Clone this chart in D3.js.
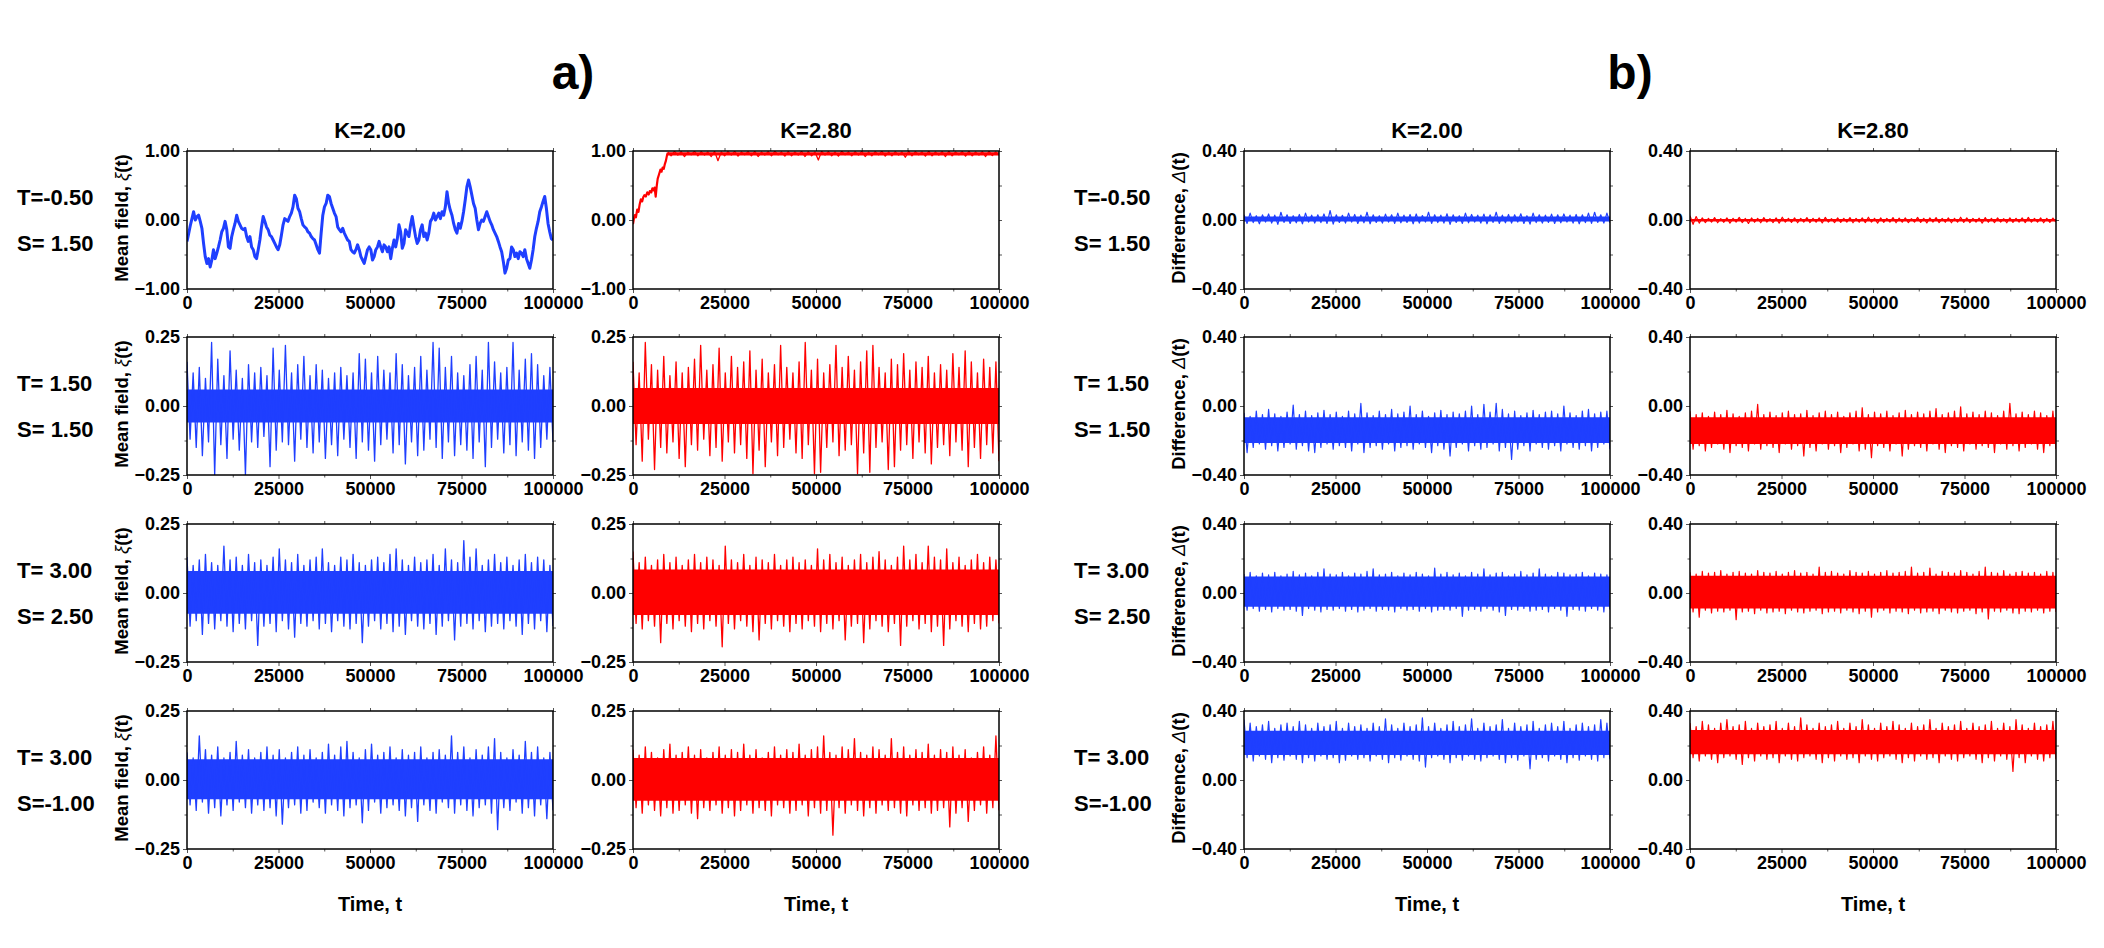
<!DOCTYPE html>
<html>
<head>
<meta charset="utf-8">
<script src="https://cdn.jsdelivr.net/npm/d3@7"></script>
<style>
  body { margin: 0; background: #fff; }
  svg { display: block; }
</style>
</head>
<body>
<div id="chart"></div>
<script>
// ---------- axes / labels ----------
const timeTicks = [0, 25000, 50000, 75000, 100000];
const timeMinor = [12500, 37500, 62500, 87500];
const kLabels = ["K=2.00", "K=2.80"];
const rowT = ["T=-0.50", "T= 1.50", "T= 3.00", "T= 3.00"];
const rowS = ["S= 1.50", "S= 1.50", "S= 2.50", "S=-1.00"];
const meanTicks = [[-1, 0, 1], [-0.25, 0, 0.25], [-0.25, 0, 0.25], [-0.25, 0, 0.25]];
const diffTicks = [-0.4, 0, 0.4];

// ---------- a) mean field, row 1 ----------
// K=2.00: slow wandering trace, read at even steps from t=0 to t=100000
const walkK200 = [-0.31,-0.2,-0.08,0.02,0.12,0,0.05,0.07,-0.02,-0.12,-0.34,-0.53,-0.63,-0.56,-0.68,-0.58,-0.43,-0.56,-0.48,-0.39,
  -0.29,-0.17,-0.12,-0.02,-0.14,-0.39,-0.41,-0.24,-0.14,-0.05,0.07,-0.02,-0.07,-0.12,-0.14,-0.12,-0.24,-0.31,-0.24,-0.39,
  -0.43,-0.53,-0.56,-0.43,-0.29,-0.1,0.05,-0.02,-0.1,-0.14,-0.22,-0.24,-0.29,-0.34,-0.39,-0.43,-0.36,-0.22,-0.07,0.02,
  0,-0.02,0.05,0.1,0.19,0.36,0.31,0.17,0.12,0.02,-0.07,-0.1,-0.12,-0.17,-0.19,-0.24,-0.27,-0.29,-0.36,-0.43,
  -0.48,-0.19,0.07,0.19,0.24,0.36,0.34,0.24,0.17,0.1,0.05,-0.1,-0.14,-0.17,-0.12,-0.19,-0.24,-0.29,-0.31,-0.43,
  -0.46,-0.48,-0.43,-0.36,-0.43,-0.53,-0.58,-0.63,-0.53,-0.43,-0.39,
  -0.43,-0.58,-0.53,-0.43,-0.39,-0.31,-0.39,-0.46,-0.36,-0.39,-0.46,-0.39,-0.56,-0.41,-0.29,-0.39,-0.27,-0.07,-0.17,-0.41,
  -0.34,-0.14,-0.19,-0.24,-0.07,0.05,-0.1,-0.24,-0.34,-0.29,-0.14,-0.07,-0.24,-0.19,-0.29,-0.19,-0.02,0.02,0.1,0,
  0.05,0.1,0.02,0.12,0.07,0.19,0.41,0.24,0.14,0.07,-0.05,-0.14,-0.19,-0.05,-0.12,-0.02,0.12,0.29,0.48,0.58,
  0.48,0.36,0.24,0.17,0,-0.14,-0.05,0,-0.02,0.05,0.12,0.05,-0.02,-0.07,-0.14,-0.19,-0.24,-0.31,-0.39,-0.46,
  -0.6,-0.77,-0.7,-0.58,-0.56,-0.39,-0.43,-0.53,-0.48,-0.56,-0.46,-0.48,-0.53,-0.43,-0.56,-0.63,-0.7,-0.58,-0.43,-0.24,
  -0.12,-0.02,0.12,0.19,0.27,0.34,0.17,-0.05,-0.17,-0.27,-0.29];

// K=2.80: quick rise, [t, xi], then a saturated plateau (spike tops / bottoms)
const riseK280 = [[0,-0.06],[250,0.02],[500,0.07],[800,0.04],[1150,0.15],[1500,0.12],[1800,0.22],[2150,0.3],[2500,0.27],[2800,0.33],
  [3100,0.36],[3500,0.34],[3900,0.4],[4300,0.37],[4600,0.42],[5000,0.4],[5300,0.46],[5600,0.43],[5900,0.47],[6200,0.34],[6500,0.5],
  [6750,0.6],[7100,0.66],[7500,0.73],[7800,0.7],[8100,0.76],[8400,0.74],[8700,0.81],[9000,0.86],[9300,0.94],[9500,0.975]];
const plateauUpK280 = [0.985,0.995,0.99,0.985,0.995,0.99,0.985,0.995,0.985,0.99,0.995,0.985,0.99,0.995,0.985,0.99,0.995,0.985,0.99,0.985,
  0.995,0.99,0.985,0.995,0.99,0.985,0.995,0.985,0.99,0.995,0.985,0.99,0.995,0.985,0.99,0.985,0.995,0.99,0.985,0.995,
  0.985,0.99,0.995,0.985,0.99,0.995,0.985,0.99,0.995,0.985];
const plateauDnK280 = [0.93,0.94,0.92,0.945,0.93,0.94,0.92,0.86,0.93,0.94,0.925,0.945,0.93,0.92,0.94,0.93,0.945,0.925,0.93,0.94,
  0.92,0.93,0.87,0.94,0.93,0.925,0.945,0.93,0.94,0.92,0.93,0.945,0.925,0.93,0.94,0.91,0.93,0.945,0.925,0.93,
  0.94,0.92,0.93,0.945,0.925,0.93,0.94,0.92,0.935,0.94];
const plateauCoreK280 = [0.935, 0.982];

// ---------- a) mean field, rows 2-4 (spike tops / bottoms, left to right) ----------
const mfK200r2Up = [0.16,0.12,0.14,0.10,0.23,0.17,0.11,0.20,0.13,0.10,0.15,0.12,0.14,0.11,0.21,0.13,0.22,0.12,0.15,0.18,
  0.11,0.15,0.13,0.10,0.12,0.14,0.11,0.12,0.19,0.17,0.12,0.18,0.13,0.12,0.19,0.15,0.11,0.14,0.18,0.13,
  0.23,0.21,0.14,0.18,0.12,0.11,0.15,0.18,0.13,0.23,0.16,0.12,0.14,0.23,0.13,0.17,0.19,0.15,0.11,0.14];
const mfK200r2Dn = [-0.12,-0.15,-0.18,-0.13,-0.25,-0.14,-0.19,-0.12,-0.16,-0.25,-0.13,-0.15,-0.11,-0.22,-0.16,-0.13,-0.14,-0.20,-0.12,-0.15,
  -0.17,-0.13,-0.19,-0.14,-0.18,-0.12,-0.15,-0.19,-0.13,-0.16,-0.20,-0.14,-0.12,-0.17,-0.14,-0.21,-0.13,-0.18,-0.16,-0.12,
  -0.15,-0.19,-0.13,-0.18,-0.14,-0.16,-0.19,-0.13,-0.22,-0.15,-0.12,-0.17,-0.14,-0.18,-0.13,-0.16,-0.19,-0.15,-0.12,-0.13];
const mfK280r2Up = [0.16,0.12,0.23,0.15,0.13,0.18,0.11,0.16,0.12,0.14,0.17,0.22,0.13,0.15,0.21,0.12,0.18,0.14,0.16,0.2,
  0.13,0.17,0.12,0.15,0.22,0.14,0.12,0.16,0.23,0.13,0.17,0.12,0.15,0.22,0.14,0.18,0.13,0.16,0.2,0.22,
  0.14,0.12,0.17,0.15,0.19,0.13,0.16,0.14,0.18,0.12,0.15,0.13,0.19,0.14,0.2,0.16,0.12,0.17,0.14,0.16];
const mfK280r2Dn = [-0.14,-0.2,-0.12,-0.23,-0.15,-0.17,-0.13,-0.19,-0.22,-0.14,-0.16,-0.12,-0.18,-0.15,-0.2,-0.13,-0.17,-0.14,-0.19,-0.245,
  -0.16,-0.22,-0.13,-0.18,-0.15,-0.12,-0.17,-0.19,-0.14,-0.245,-0.24,-0.15,-0.13,-0.18,-0.16,-0.14,-0.245,-0.17,-0.24,-0.15,
  -0.13,-0.23,-0.22,-0.16,-0.14,-0.19,-0.13,-0.17,-0.21,-0.15,-0.14,-0.18,-0.13,-0.16,-0.22,-0.15,-0.19,-0.14,-0.17,-0.2];
const mfK200r3Up = [0.13,0.1,0.12,0.14,0.11,0.1,0.17,0.12,0.13,0.1,0.14,0.11,0.12,0.1,0.13,0.16,0.12,0.11,0.14,0.1,
  0.12,0.13,0.16,0.11,0.1,0.13,0.12,0.14,0.11,0.1,0.12,0.13,0.11,0.14,0.16,0.12,0.1,0.13,0.11,0.12,
  0.14,0.1,0.16,0.12,0.11,0.19,0.13,0.16,0.1,0.12,0.14,0.11,0.13,0.1,0.12,0.14,0.11,0.13,0.12,0.1];
const mfK200r3Dn = [-0.12,-0.1,-0.15,-0.11,-0.13,-0.1,-0.12,-0.14,-0.11,-0.13,-0.1,-0.19,-0.12,-0.11,-0.14,-0.1,-0.13,-0.16,-0.11,-0.12,
  -0.1,-0.13,-0.11,-0.14,-0.1,-0.12,-0.13,-0.11,-0.18,-0.12,-0.1,-0.13,-0.11,-0.14,-0.12,-0.15,-0.1,-0.12,-0.13,-0.11,
  -0.15,-0.12,-0.1,-0.17,-0.12,-0.11,-0.13,-0.1,-0.14,-0.12,-0.11,-0.13,-0.1,-0.12,-0.15,-0.11,-0.13,-0.1,-0.14,-0.12];
const mfK280r3Up = [0.15,0.11,0.13,0.1,0.12,0.14,0.11,0.13,0.1,0.12,0.14,0.11,0.13,0.12,0.1,0.17,0.12,0.11,0.14,0.1,
  0.13,0.12,0.11,0.14,0.1,0.12,0.13,0.11,0.12,0.1,0.16,0.12,0.14,0.11,0.13,0.1,0.12,0.14,0.11,0.13,
  0.15,0.12,0.1,0.13,0.17,0.12,0.14,0.11,0.17,0.13,0.12,0.16,0.11,0.13,0.1,0.12,0.14,0.11,0.13,0.12];
const mfK280r3Dn = [-0.11,-0.13,-0.1,-0.12,-0.18,-0.11,-0.13,-0.1,-0.12,-0.14,-0.11,-0.13,-0.1,-0.12,-0.195,-0.11,-0.13,-0.1,-0.12,-0.14,
  -0.17,-0.11,-0.13,-0.1,-0.12,-0.14,-0.11,-0.13,-0.1,-0.12,-0.14,-0.11,-0.13,-0.1,-0.17,-0.12,-0.11,-0.18,-0.13,-0.1,
  -0.12,-0.14,-0.11,-0.19,-0.12,-0.1,-0.13,-0.11,-0.14,-0.12,-0.19,-0.13,-0.1,-0.12,-0.14,-0.11,-0.13,-0.12,-0.1,-0.11];
const mfK200r4Up = [0.1,0.08,0.16,0.11,0.09,0.12,0.08,0.1,0.14,0.09,0.11,0.08,0.1,0.12,0.09,0.11,0.08,0.1,0.12,0.09,
  0.11,0.08,0.1,0.13,0.09,0.12,0.14,0.1,0.08,0.11,0.13,0.09,0.1,0.12,0.08,0.11,0.09,0.1,0.12,0.08,
  0.1,0.11,0.09,0.16,0.1,0.12,0.08,0.11,0.09,0.12,0.15,0.1,0.08,0.11,0.09,0.14,0.1,0.12,0.08,0.1];
const mfK200r4Dn = [-0.09,-0.11,-0.08,-0.12,-0.1,-0.13,-0.09,-0.11,-0.08,-0.1,-0.12,-0.09,-0.11,-0.1,-0.13,-0.16,-0.1,-0.09,-0.12,-0.11,
  -0.08,-0.1,-0.12,-0.09,-0.11,-0.13,-0.1,-0.09,-0.155,-0.11,-0.08,-0.12,-0.1,-0.09,-0.11,-0.13,-0.1,-0.15,-0.09,-0.11,
  -0.12,-0.08,-0.1,-0.12,-0.09,-0.11,-0.13,-0.1,-0.09,-0.12,-0.18,-0.1,-0.11,-0.08,-0.12,-0.1,-0.13,-0.09,-0.14,-0.11];
const mfK280r4Up = [0.11,0.09,0.12,0.1,0.08,0.11,0.13,0.09,0.1,0.12,0.09,0.11,0.08,0.1,0.12,0.09,0.11,0.1,0.13,0.09,
  0.11,0.08,0.1,0.12,0.09,0.11,0.1,0.13,0.09,0.11,0.12,0.16,0.1,0.09,0.12,0.11,0.15,0.1,0.09,0.12,
  0.11,0.09,0.15,0.1,0.12,0.09,0.11,0.1,0.13,0.09,0.11,0.1,0.12,0.09,0.11,0.08,0.1,0.12,0.09,0.16];
const mfK280r4Dn = [-0.1,-0.12,-0.09,-0.11,-0.13,-0.1,-0.12,-0.11,-0.09,-0.12,-0.14,-0.1,-0.11,-0.09,-0.12,-0.1,-0.13,-0.11,-0.09,-0.12,
  -0.1,-0.11,-0.13,-0.09,-0.1,-0.12,-0.11,-0.09,-0.13,-0.1,-0.12,-0.11,-0.2,-0.1,-0.12,-0.09,-0.11,-0.13,-0.1,-0.12,
  -0.09,-0.11,-0.1,-0.12,-0.13,-0.09,-0.11,-0.1,-0.12,-0.11,-0.1,-0.17,-0.12,-0.1,-0.15,-0.11,-0.09,-0.12,-0.1,-0.11];
// dense core of each trace [low, high], rows 2-4
const mfCoreK200 = [[-0.06, 0.06], [-0.075, 0.08], [-0.07, 0.075]];
const mfCoreK280 = [[-0.065, 0.065], [-0.08, 0.085], [-0.075, 0.08]];

// ---------- b) difference, rows 1-4 ----------
const dfK200r1Up = [0.03,0.04,0.025,0.03,0.035,0.028,0.045,0.03,0.025,0.032,0.04,0.028,0.03,0.035,0.055,0.03,0.027,0.04,0.032,0.028,
  0.045,0.03,0.025,0.034,0.03,0.04,0.028,0.032,0.035,0.026,0.045,0.03,0.028,0.036,0.03,0.025,0.04,0.032,0.028,0.034,
  0.03,0.045,0.028,0.032,0.03,0.036,0.025,0.04,0.03,0.028,0.034,0.03,0.035,0.028,0.032,0.03,0.04,0.045,0.03,0.04];
const dfK200r1Dn = [-0.02,-0.015,-0.022,-0.012,-0.018,-0.025,-0.014,-0.02,-0.016,-0.022,-0.012,-0.018,-0.015,-0.02,-0.024,-0.014,-0.018,-0.012,-0.02,-0.016,
  -0.022,-0.014,-0.018,-0.012,-0.02,-0.016,-0.014,-0.022,-0.018,-0.012,-0.02,-0.015,-0.018,-0.025,-0.014,-0.02,-0.016,-0.012,-0.018,-0.022,
  -0.014,-0.02,-0.016,-0.018,-0.012,-0.02,-0.024,-0.015,-0.018,-0.014,-0.02,-0.016,-0.012,-0.018,-0.022,-0.015,-0.02,-0.014,-0.018,-0.016];
const dfK280r1Up = [0.025,0.02,0.012,0.01,0.014,0.008,0.012,0.01,0.015,0.009,0.012,0.01,0.014,0.008,0.012,0.016,0.01,0.012,0.009,0.014,
  0.01,0.012,0.015,0.008,0.012,0.01,0.014,0.009,0.012,0.016,0.01,0.012,0.009,0.014,0.011,0.012,0.008,0.015,0.01,0.012,
  0.014,0.009,0.012,0.01,0.016,0.012,0.009,0.011,0.014,0.01,0.012,0.008,0.013,0.01,0.012,0.015,0.009,0.012,0.01,0.011];
const dfK280r1Dn = [-0.025,-0.018,-0.015,-0.012,-0.016,-0.013,-0.018,-0.012,-0.015,-0.02,-0.013,-0.016,-0.012,-0.015,-0.018,-0.012,-0.014,-0.016,-0.012,-0.015,
  -0.013,-0.017,-0.012,-0.015,-0.014,-0.012,-0.016,-0.013,-0.015,-0.012,-0.018,-0.014,-0.012,-0.016,-0.013,-0.015,-0.012,-0.014,-0.017,-0.012,
  -0.015,-0.013,-0.016,-0.012,-0.014,-0.015,-0.012,-0.018,-0.013,-0.015,-0.012,-0.016,-0.014,-0.012,-0.015,-0.013,-0.012,-0.016,-0.014,-0.012];
const dfK200r2Up = [-0.04,-0.06,-0.03,-0.05,-0.02,-0.045,-0.06,-0.035,0.005,-0.05,-0.03,-0.055,-0.04,-0.025,-0.05,-0.035,-0.06,-0.03,-0.045,0.015,
  -0.04,-0.055,-0.03,-0.05,-0.02,-0.045,-0.035,0.0,-0.05,-0.03,-0.06,-0.04,-0.025,-0.05,-0.035,-0.045,-0.03,0.0,-0.05,0.01,
  -0.035,0.015,-0.02,-0.045,-0.03,-0.055,-0.04,-0.025,-0.05,-0.035,-0.03,-0.045,0.0,-0.04,-0.055,-0.03,-0.02,-0.045,-0.035,-0.03];
const dfK200r2Dn = [-0.27,-0.24,-0.22,-0.25,-0.23,-0.26,-0.24,-0.22,-0.25,-0.23,-0.26,-0.27,-0.24,-0.22,-0.25,-0.23,-0.24,-0.26,-0.22,-0.27,
  -0.24,-0.23,-0.25,-0.22,-0.26,-0.24,-0.23,-0.25,-0.22,-0.24,-0.27,-0.23,-0.25,-0.29,-0.24,-0.22,-0.26,-0.23,-0.25,-0.24,
  -0.22,-0.26,-0.24,-0.31,-0.25,-0.23,-0.26,-0.22,-0.24,-0.25,-0.23,-0.26,-0.22,-0.24,-0.25,-0.23,-0.26,-0.24,-0.22,-0.25];
const dfK280r2Up = [-0.03,-0.05,-0.04,-0.06,-0.035,-0.05,-0.025,-0.045,-0.06,-0.04,-0.03,0.01,-0.05,-0.035,-0.055,-0.04,-0.03,-0.05,-0.045,-0.025,
  -0.055,-0.04,-0.03,-0.05,-0.035,-0.06,-0.04,-0.03,-0.01,-0.05,-0.035,-0.045,-0.03,-0.055,-0.04,-0.025,-0.05,-0.035,-0.045,-0.03,
  -0.015,-0.05,-0.04,-0.03,-0.005,-0.045,-0.035,-0.05,-0.03,-0.04,-0.055,-0.03,0.015,-0.045,-0.035,-0.05,-0.03,-0.04,-0.055,-0.03];
const dfK280r2Dn = [-0.25,-0.23,-0.26,-0.24,-0.22,-0.25,-0.27,-0.23,-0.24,-0.26,-0.22,-0.25,-0.23,-0.24,-0.27,-0.22,-0.25,-0.23,-0.29,-0.24,
  -0.26,-0.22,-0.25,-0.23,-0.27,-0.24,-0.22,-0.26,-0.25,-0.3,-0.23,-0.24,-0.26,-0.22,-0.29,-0.25,-0.23,-0.24,-0.26,-0.22,
  -0.25,-0.27,-0.23,-0.24,-0.26,-0.22,-0.25,-0.23,-0.24,-0.27,-0.22,-0.25,-0.23,-0.26,-0.24,-0.22,-0.25,-0.27,-0.23,-0.25];
const dfK200r3Up = [0.11,0.12,0.1,0.115,0.105,0.12,0.1,0.11,0.125,0.105,0.115,0.1,0.12,0.14,0.11,0.105,0.12,0.1,0.115,0.11,
  0.125,0.14,0.105,0.11,0.12,0.1,0.115,0.105,0.12,0.11,0.1,0.145,0.11,0.12,0.105,0.115,0.1,0.12,0.11,0.14,
  0.105,0.115,0.12,0.1,0.11,0.125,0.105,0.115,0.14,0.11,0.1,0.12,0.115,0.105,0.11,0.12,0.1,0.115,0.11,0.105];
const dfK200r3Dn = [-0.1,-0.09,-0.105,-0.095,-0.11,-0.09,-0.1,-0.095,-0.105,-0.13,-0.09,-0.1,-0.11,-0.095,-0.1,-0.09,-0.105,-0.095,-0.11,-0.1,
  -0.09,-0.105,-0.095,-0.1,-0.11,-0.09,-0.1,-0.095,-0.105,-0.09,-0.11,-0.1,-0.095,-0.1,-0.09,-0.135,-0.1,-0.095,-0.105,-0.09,
  -0.1,-0.11,-0.13,-0.095,-0.1,-0.09,-0.105,-0.1,-0.095,-0.11,-0.09,-0.1,-0.135,-0.095,-0.1,-0.105,-0.09,-0.1,-0.11,-0.095];
const dfK280r3Up = [0.12,0.11,0.125,0.115,0.12,0.13,0.11,0.12,0.125,0.115,0.11,0.13,0.12,0.115,0.125,0.11,0.12,0.13,0.115,0.12,
  0.11,0.15,0.12,0.125,0.115,0.11,0.13,0.12,0.115,0.125,0.11,0.12,0.13,0.115,0.12,0.125,0.15,0.115,0.12,0.145,
  0.11,0.125,0.12,0.115,0.13,0.12,0.11,0.125,0.15,0.12,0.115,0.13,0.11,0.12,0.125,0.115,0.12,0.11,0.125,0.12];
const dfK280r3Dn = [-0.11,-0.14,-0.1,-0.115,-0.105,-0.11,-0.1,-0.155,-0.11,-0.105,-0.12,-0.1,-0.115,-0.11,-0.105,-0.12,-0.1,-0.11,-0.115,-0.105,
  -0.1,-0.12,-0.11,-0.105,-0.115,-0.1,-0.11,-0.12,-0.105,-0.14,-0.11,-0.1,-0.115,-0.105,-0.11,-0.12,-0.1,-0.115,-0.11,-0.105,
  -0.12,-0.1,-0.11,-0.115,-0.105,-0.1,-0.12,-0.11,-0.15,-0.105,-0.11,-0.1,-0.115,-0.12,-0.105,-0.11,-0.1,-0.115,-0.105,-0.11];
const dfK200r4Up = [0.35,0.33,0.31,0.32,0.34,0.3,0.32,0.33,0.31,0.34,0.32,0.3,0.33,0.31,0.32,0.34,0.3,0.33,0.31,0.32,
  0.3,0.33,0.31,0.355,0.32,0.3,0.33,0.31,0.32,0.36,0.31,0.33,0.3,0.32,0.34,0.31,0.32,0.355,0.3,0.33,
  0.31,0.32,0.35,0.3,0.33,0.31,0.32,0.34,0.3,0.32,0.33,0.31,0.34,0.3,0.32,0.33,0.31,0.32,0.35,0.33];
const dfK200r4Dn = [0.13,0.11,0.14,0.12,0.1,0.13,0.115,0.14,0.12,0.1,0.13,0.11,0.14,0.12,0.13,0.1,0.115,0.14,0.12,0.13,
  0.11,0.14,0.12,0.1,0.13,0.115,0.14,0.12,0.11,0.075,0.13,0.14,0.12,0.1,0.13,0.115,0.14,0.12,0.11,0.13,
  0.14,0.12,0.1,0.13,0.115,0.14,0.065,0.12,0.13,0.11,0.14,0.12,0.1,0.13,0.115,0.14,0.12,0.11,0.13,0.12];
const dfK280r4Up = [0.33,0.31,0.34,0.32,0.3,0.33,0.35,0.31,0.32,0.34,0.3,0.33,0.31,0.32,0.34,0.3,0.33,0.31,0.36,0.32,
  0.3,0.33,0.31,0.32,0.34,0.3,0.33,0.31,0.35,0.32,0.3,0.33,0.31,0.34,0.32,0.3,0.33,0.31,0.32,0.35,
  0.3,0.33,0.31,0.32,0.34,0.3,0.33,0.31,0.32,0.34,0.3,0.33,0.31,0.35,0.32,0.3,0.33,0.31,0.32,0.34];
const dfK280r4Dn = [0.13,0.11,0.14,0.12,0.1,0.13,0.14,0.12,0.09,0.13,0.11,0.14,0.12,0.13,0.1,0.14,0.12,0.11,0.13,0.14,
  0.12,0.1,0.13,0.11,0.14,0.12,0.13,0.1,0.14,0.12,0.11,0.13,0.14,0.12,0.1,0.13,0.11,0.14,0.12,0.13,
  0.1,0.14,0.12,0.11,0.13,0.14,0.12,0.1,0.13,0.11,0.14,0.12,0.05,0.13,0.1,0.14,0.12,0.11,0.13,0.12];
const dfCoreK200 = [[-0.008, 0.02], [-0.215, -0.065], [-0.08, 0.095], [0.145, 0.285]];
const dfCoreK280 = [[-0.008, 0.006], [-0.22, -0.065], [-0.09, 0.1], [0.15, 0.29]];

// ---------- layout ----------
const W = 2104, H = 948;
const FONT = '"Liberation Sans", Arial, Helvetica, sans-serif';
const colLeft = [187, 633, 1244, 1690];
const plotW = 366, plotH = 138;
const rowTop = [151, 337, 524, 711];
const COLORS = ["#1f3fff", "#ff0000"];

const svg = d3.select("#chart").append("svg")
  .attr("width", W).attr("height", H)
  .attr("font-family", FONT);
const defs = svg.append("defs");

// values read at even steps -> [t, v]
function spread(vals, t0, t1) {
  return vals.map((v, i) => [t0 + (t1 - t0) * i / (vals.length - 1), v]);
}
// interleave spike tops and bottoms into one trace spread over [t0, t1]
function zig(up, dn, t0, t1) {
  const n = Math.min(up.length, dn.length);
  return spread(d3.merge(d3.range(n).map(i => [up[i], dn[i]])), t0, t1);
}

// table of layers per panel: block (0 = a, 1 = b), row, K index
function layersFor(block, row, k) {
  if (block === 0) {
    if (row === 0) {
      if (k === 0) return [{ line: spread(walkK200, 0, 100000), w: 3 }];
      return [
        { band: plateauCoreK280, t0: 9500, t1: 100000 },
        { line: riseK280, w: 2.2 },
        { line: zig(plateauUpK280, plateauDnK280, 9500, 100000), w: 1.3 }
      ];
    }
    const src = {
      "0-1": [mfK200r2Up, mfK200r2Dn], "0-2": [mfK200r3Up, mfK200r3Dn], "0-3": [mfK200r4Up, mfK200r4Dn],
      "1-1": [mfK280r2Up, mfK280r2Dn], "1-2": [mfK280r3Up, mfK280r3Dn], "1-3": [mfK280r4Up, mfK280r4Dn]
    }[k + "-" + row];
    const core = (k === 0 ? mfCoreK200 : mfCoreK280)[row - 1];
    return [{ band: core, t0: 0, t1: 100000 }, { line: zig(src[0], src[1], 0, 100000), w: 1.3 }];
  }
  const src = [
    [[dfK200r1Up, dfK200r1Dn], [dfK200r2Up, dfK200r2Dn], [dfK200r3Up, dfK200r3Dn], [dfK200r4Up, dfK200r4Dn]],
    [[dfK280r1Up, dfK280r1Dn], [dfK280r2Up, dfK280r2Dn], [dfK280r3Up, dfK280r3Dn], [dfK280r4Up, dfK280r4Dn]]
  ][k][row];
  const core = (k === 0 ? dfCoreK200 : dfCoreK280)[row];
  return [{ band: core, t0: 0, t1: 100000 }, { line: zig(src[0], src[1], 0, 100000), w: 1.2 }];
}

function styleAxis(g, withText) {
  g.attr("font-family", FONT);
  g.select(".domain").remove();
  g.selectAll(".tick line").attr("stroke", "#555").attr("stroke-width", 1);
  if (withText) g.selectAll("text").attr("font-size", 18).attr("font-weight", "bold").attr("fill", "#000");
  else g.selectAll("text").remove();
}

function drawPanel(block, row, k) {
  const left = colLeft[block * 2 + k], top = rowTop[row];
  const x = d3.scaleLinear().domain([0, 100000]).range([left, left + plotW]);
  const yT = block === 0 ? meanTicks[row] : diffTicks;
  const y = d3.scaleLinear().domain([yT[0], yT[2]]).range([top + plotH, top]);
  const yMinor = d3.pairs(yT).map(([a, b]) => (a + b) / 2);
  const color = COLORS[k];
  const id = `clip-${block}-${row}-${k}`;

  defs.append("clipPath").attr("id", id).append("rect")
    .attr("x", left).attr("y", top).attr("width", plotW).attr("height", plotH);

  const g = svg.append("g");
  const data = g.append("g").attr("clip-path", `url(#${id})`);
  const line = d3.line().x(d => x(d[0])).y(d => y(d[1]));

  layersFor(block, row, k).forEach(L => {
    if (L.band) {
      data.append("path")
        .attr("d", d3.area().x(d => x(d)).y0(y(L.band[0])).y1(y(L.band[1]))([L.t0, L.t1]))
        .attr("fill", color);
    } else {
      data.append("path").attr("d", line(L.line))
        .attr("fill", "none").attr("stroke", color)
        .attr("stroke-width", L.w).attr("stroke-linejoin", "round");
    }
  });

  // ticks on all four sides
  const fmtT = d3.format("d"), fmtY = d3.format(".2f");
  styleAxis(g.append("g").attr("transform", `translate(0,${top + plotH})`)
    .call(d3.axisBottom(x).tickValues(timeTicks).tickFormat(fmtT).tickSize(4).tickPadding(3).tickSizeOuter(0)), true);
  styleAxis(g.append("g").attr("transform", `translate(0,${top + plotH})`)
    .call(d3.axisBottom(x).tickValues(timeMinor).tickSize(2.5).tickSizeOuter(0)), false);
  styleAxis(g.append("g").attr("transform", `translate(0,${top})`)
    .call(d3.axisTop(x).tickValues(timeTicks.concat(timeMinor)).tickSize(3).tickSizeOuter(0)), false);
  styleAxis(g.append("g").attr("transform", `translate(${left},0)`)
    .call(d3.axisLeft(y).tickValues(yT).tickFormat(fmtY).tickSize(4).tickPadding(3).tickSizeOuter(0)), true);
  styleAxis(g.append("g").attr("transform", `translate(${left},0)`)
    .call(d3.axisLeft(y).tickValues(yMinor).tickSize(2.5).tickSizeOuter(0)), false);
  styleAxis(g.append("g").attr("transform", `translate(${left + plotW},0)`)
    .call(d3.axisRight(y).tickValues(yT.concat(yMinor)).tickSize(3).tickSizeOuter(0)), false);

  g.append("rect").attr("x", left).attr("y", top).attr("width", plotW).attr("height", plotH)
    .attr("fill", "none").attr("stroke", "#000").attr("stroke-width", 1.5);
}

[0, 1].forEach(block => {
  rowTop.forEach((_, row) => { drawPanel(block, row, 0); drawPanel(block, row, 1); });

  const l0 = colLeft[block * 2], l1 = colLeft[block * 2 + 1];
  // block title a) / b)
  svg.append("text").attr("x", (l0 + l1 + plotW) / 2 - 20).attr("y", 72)
    .attr("text-anchor", "middle").attr("dominant-baseline", "central")
    .attr("font-size", 48).attr("font-weight", "bold").text(block === 0 ? "a)" : "b)");

  [l0, l1].forEach((l, k) => {
    svg.append("text").attr("x", l + plotW / 2).attr("y", 130)
      .attr("text-anchor", "middle").attr("dominant-baseline", "central")
      .attr("font-size", 22).attr("font-weight", "bold").text(kLabels[k]);
    svg.append("text").attr("x", l + plotW / 2).attr("y", 904)
      .attr("text-anchor", "middle").attr("dominant-baseline", "central")
      .attr("font-size", 20).attr("font-weight", "bold").text("Time, t");
  });

  // y axis title next to the left column only, plus T / S row labels
  const lx = block === 0 ? 17 : 1074;
  rowTop.forEach((top, row) => {
    const c = top + plotH / 2;
    const t = svg.append("text").attr("transform", `translate(${l0 - 66},${c - 2}) rotate(-90)`)
      .attr("text-anchor", "middle").attr("dominant-baseline", "central")
      .attr("font-size", 18.5).attr("font-weight", "bold");
    t.append("tspan").text(block === 0 ? "Mean field, " : "Difference, ");
    t.append("tspan").attr("font-style", "italic").attr("font-weight", "normal").text(block === 0 ? "ξ" : "Δ");
    t.append("tspan").text("(t)");

    svg.append("text").attr("x", lx).attr("y", c - 23).attr("dominant-baseline", "central")
      .attr("font-size", 22).attr("font-weight", "bold").text(rowT[row]);
    svg.append("text").attr("x", lx).attr("y", c + 23).attr("dominant-baseline", "central")
      .attr("font-size", 22).attr("font-weight", "bold").text(rowS[row]);
  });
});
</script>
</body>
</html>
